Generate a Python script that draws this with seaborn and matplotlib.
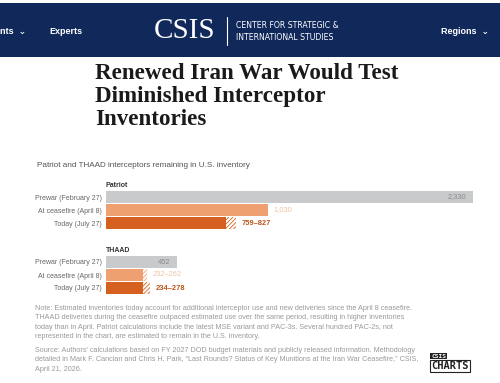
import matplotlib
matplotlib.use("Agg")
import matplotlib.pyplot as plt
from matplotlib.patches import Rectangle
import seaborn as sns

# --- data ---
CATEGORIES = ["Prewar (February 27)", "At ceasefire (April 8)", "Today (July 27)"]
PATRIOT_LOW = [2330, 1030, 759]
PATRIOT_HIGH = [2330, 1030, 827]
THAAD_LOW = [452, 232, 234]
THAAD_HIGH = [452, 262, 278]

BAR_COLORS = ["#c9cacc", "#eea070", "#d6601f"]
LABEL_COLORS = ["#8a8a8a", "#f0c2a2", "#b9561c"]
NAVY = "#10285a"

TITLE = "Renewed Iran War Would Test\nDiminished Interceptor\nInventories"
SUBTITLE = "Patriot and THAAD interceptors remaining in U.S. inventory"
NOTE = ("Note: Estimated inventories today account for additional interceptor use and new deliveries since the April 8 ceasefire.\n"
        "THAAD deliveries during the ceasefire outpaced estimated use over the same period, resulting in higher inventories\n"
        "today than in April. Patriot calculations include the latest MSE variant and PAC-3s. Several hundred PAC-2s, not\n"
        "represented in the chart, are estimated to remain in the U.S. inventory.")
SOURCE = ("Source: Authors' calculations based on FY 2027 DOD budget materials and publicly released information. Methodology\n"
          "detailed in Mark F. Cancian and Chris H. Park, \u201cLast Rounds? Status of Key Munitions at the Iran War Ceasefire,\u201d CSIS,\n"
          "April 21, 2026.")

sns.set_theme(style="white")
plt.rcParams["font.family"] = ["Liberation Sans", "DejaVu Sans"]
plt.rcParams["hatch.linewidth"] = 0.6

W, H = 500, 383
fig = plt.figure(figsize=(5, 3.83), dpi=100)
fig.patch.set_facecolor("white")


def fx(px):
    return px / W


def fy(py):
    return 1 - py / H


# --- header band ---
fig.patches.append(Rectangle((0, fy(57)), 1, fy(3) - fy(57), transform=fig.transFigure,
                             facecolor=NAVY, edgecolor="none", zorder=0))
fig.text(fx(0), fy(31), "nts  \u2304", color="white", fontsize=6.5, fontweight="bold", va="center")
fig.text(fx(49), fy(31), "Experts", color="white", fontsize=6.5, fontweight="bold", va="center")
fig.text(fx(154), fy(31), "CSIS", color="white", fontsize=21, family="Liberation Serif", va="center")
fig.lines.append(plt.Line2D([fx(227), fx(227)], [fy(17), fy(45)], transform=fig.transFigure,
                            color="white", lw=0.8))
fig.text(fx(236), fy(25), "CENTER FOR STRATEGIC &", color="white", fontsize=5.6, va="center",
         family="DejaVu Sans")
fig.text(fx(236), fy(38), "INTERNATIONAL STUDIES", color="white", fontsize=5.6, va="center",
         family="DejaVu Sans")
fig.text(fx(441), fy(31), "Regions  \u2304", color="white", fontsize=6.5, fontweight="bold", va="center")

# --- title + subtitle ---
fig.text(fx(95), fy(63), TITLE, fontsize=16.6, fontweight="bold", family="Liberation Serif",
         color="#1a1a1a", va="top", linespacing=1.12)
fig.text(fx(37), fy(165), SUBTITLE, fontsize=5.9, color="#555555", va="center")


def draw_group(ax, name, low, high):
    sns.barplot(x=low, y=CATEGORIES, hue=CATEGORIES, palette=BAR_COLORS, orient="h",
                width=0.85, legend=False, ax=ax, linewidth=0, saturation=1)
    for i, (lo, hi) in enumerate(zip(low, high)):
        if hi > lo:
            ax.barh(i, hi - lo, left=lo, height=0.85, color="white", edgecolor=BAR_COLORS[i],
                    hatch="////////", linewidth=0)
    ax.set_xlim(0, 2330)
    ax.set_ylim(2.5, -0.5)
    ax.set_xlabel("")
    ax.set_ylabel("")
    ax.set_xticks([])
    ax.tick_params(axis="y", length=0, pad=3, labelsize=5, labelcolor="#666666")
    sns.despine(ax=ax, left=True, bottom=True)
    ax.set_facecolor("none")
    ax.text(0, -0.62, name, fontsize=5, fontweight="bold", color="#333333", va="bottom",
            transform=ax.transData)
    for i, (lo, hi) in enumerate(zip(low, high)):
        label = f"{lo:,}" if hi == lo else f"{lo}\u2013{hi}"
        weight = "bold" if i == 2 else "normal"
        if i == 0:
            ax.annotate(label, (hi, i), xytext=(-5, 0), textcoords="offset points",
                        ha="right", va="center", fontsize=5.4, color=LABEL_COLORS[i])
        else:
            ax.annotate(label, (hi, i), xytext=(4, 0), textcoords="offset points",
                        ha="left", va="center", fontsize=5.4, color=LABEL_COLORS[i],
                        fontweight=weight)


ax1 = fig.add_axes([fx(106), fy(229.5), fx(367), 39 / H])
draw_group(ax1, "Patriot", PATRIOT_LOW, PATRIOT_HIGH)
ax2 = fig.add_axes([fx(106), fy(294.5), fx(367), 39 / H])
draw_group(ax2, "THAAD", THAAD_LOW, THAAD_HIGH)

# --- notes ---
fig.text(fx(35), fy(305), NOTE, fontsize=5.2, color="#9a9a9a", va="top", linespacing=1.48)
fig.text(fx(35), fy(347), SOURCE, fontsize=5.2, color="#9a9a9a", va="top", linespacing=1.48)

# --- logo ---
fig.text(fx(431), fy(356), "CSIS", fontsize=4.5, fontweight="bold", color="white", va="center",
         family="DejaVu Sans Mono",
         bbox=dict(facecolor="#222222", edgecolor="none", pad=0.6))
fig.text(fx(431), fy(366), "CHARTS", fontsize=7.5, fontweight="bold", color="#222222", va="center",
         family="DejaVu Sans Mono",
         bbox=dict(facecolor="white", edgecolor="#222222", linewidth=0.8, pad=1))

fig.savefig("out.png", dpi=100, facecolor="white")
